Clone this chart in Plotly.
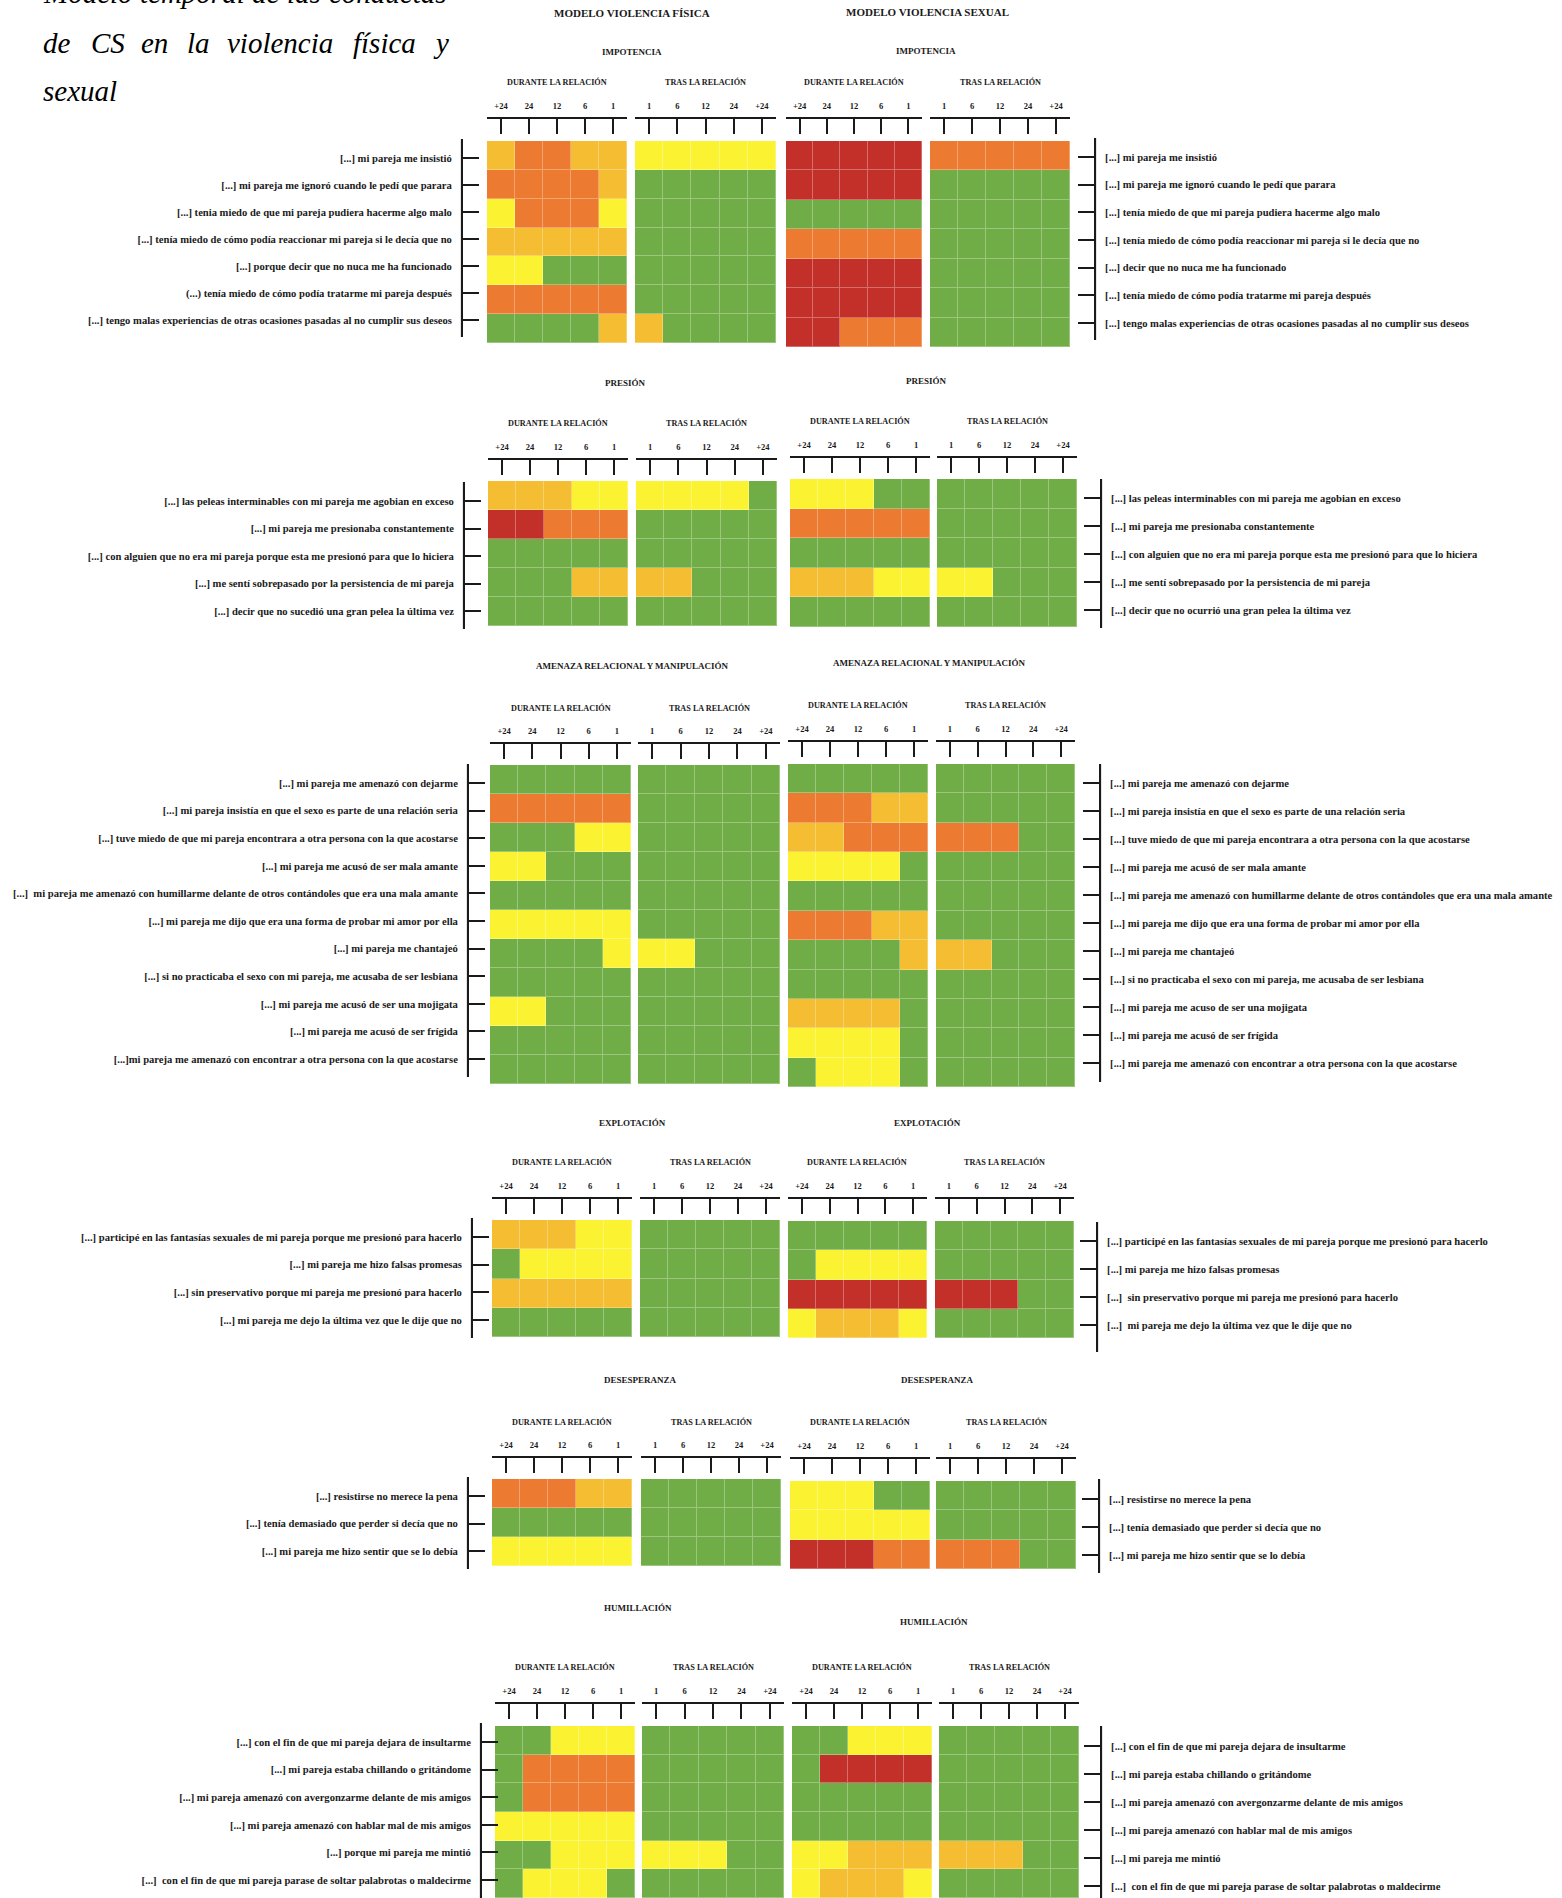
import plotly.graph_objects as go

W, H = 1562, 1898

# ---------------- DATA ----------------
time_during = ["+24", "24", "12", "6", "1"]
time_after = ["1", "6", "12", "24", "+24"]

# 0 = verde, 1 = amarillo, 2 = naranja claro, 3 = naranja, 4 = rojo
level_colors = ["#70ad47", "#fbf232", "#f5bd31", "#ec7b31", "#c3302a"]

model_titles = ["MODELO VIOLENCIA FÍSICA", "MODELO VIOLENCIA SEXUAL"]
period_titles = ["DURANTE LA RELACIÓN", "TRAS LA RELACIÓN"]
section_titles = ["IMPOTENCIA", "PRESIÓN", "AMENAZA RELACIONAL Y MANIPULACIÓN",
                  "EXPLOTACIÓN", "DESESPERANZA", "HUMILLACIÓN"]

# IMPOTENCIA
imp_labels_fis = [
    "[...] mi pareja me insistió",
    "[...] mi pareja me ignoró cuando le pedí que parara",
    "[...] tenia miedo de que mi pareja pudiera hacerme algo malo",
    "[...] tenía miedo de cómo podía reaccionar mi pareja si le decía que no",
    "[...] porque decir que no nuca me ha funcionado",
    "(...) tenía miedo de cómo podía tratarme mi pareja después",
    "[...] tengo malas experiencias de otras ocasiones pasadas al no cumplir sus deseos",
]
imp_labels_sex = [
    "[...] mi pareja me insistió",
    "[...] mi pareja me ignoró cuando le pedí que parara",
    "[...] tenía miedo de que mi pareja pudiera hacerme algo malo",
    "[...] tenía miedo de cómo podía reaccionar mi pareja si le decía que no",
    "[...] decir que no nuca me ha funcionado",
    "[...] tenía miedo de cómo podía tratarme mi pareja después",
    "[...] tengo malas experiencias de otras ocasiones pasadas al no cumplir sus deseos",
]
imp_fis_durante = [[2, 3, 3, 2, 2], [3, 3, 3, 3, 2], [1, 3, 3, 3, 1], [2, 2, 2, 2, 2],
                   [1, 1, 0, 0, 0], [3, 3, 3, 3, 3], [0, 0, 0, 0, 2]]
imp_fis_tras = [[1, 1, 1, 1, 1], [0, 0, 0, 0, 0], [0, 0, 0, 0, 0], [0, 0, 0, 0, 0],
                [0, 0, 0, 0, 0], [0, 0, 0, 0, 0], [2, 0, 0, 0, 0]]
imp_sex_durante = [[4, 4, 4, 4, 4], [4, 4, 4, 4, 4], [0, 0, 0, 0, 0], [3, 3, 3, 3, 3],
                   [4, 4, 4, 4, 4], [4, 4, 4, 4, 4], [4, 4, 3, 3, 3]]
imp_sex_tras = [[3, 3, 3, 3, 3], [0, 0, 0, 0, 0], [0, 0, 0, 0, 0], [0, 0, 0, 0, 0],
                [0, 0, 0, 0, 0], [0, 0, 0, 0, 0], [0, 0, 0, 0, 0]]

# PRESIÓN
pre_labels_fis = [
    "[...] las peleas interminables con mi pareja me agobian en exceso",
    "[...] mi pareja me presionaba constantemente",
    "[...] con alguien que no era mi pareja porque esta me presionó para que lo hiciera",
    "[...] me sentí sobrepasado por la persistencia de mi pareja",
    "[...] decir que no sucedió una gran pelea la última vez",
]
pre_labels_sex = [
    "[...] las peleas interminables con mi pareja me agobian en exceso",
    "[...] mi pareja me presionaba constantemente",
    "[...] con alguien que no era mi pareja porque esta me presionó para que lo hiciera",
    "[...] me sentí sobrepasado por la persistencia de mi pareja",
    "[...] decir que no ocurrió una gran pelea la última vez",
]
pre_fis_durante = [[2, 2, 2, 1, 1], [4, 4, 3, 3, 3], [0, 0, 0, 0, 0], [0, 0, 0, 2, 2], [0, 0, 0, 0, 0]]
pre_fis_tras = [[1, 1, 1, 1, 0], [0, 0, 0, 0, 0], [0, 0, 0, 0, 0], [2, 2, 0, 0, 0], [0, 0, 0, 0, 0]]
pre_sex_durante = [[1, 1, 1, 0, 0], [3, 3, 3, 3, 3], [0, 0, 0, 0, 0], [2, 2, 2, 1, 1], [0, 0, 0, 0, 0]]
pre_sex_tras = [[0, 0, 0, 0, 0], [0, 0, 0, 0, 0], [0, 0, 0, 0, 0], [1, 1, 0, 0, 0], [0, 0, 0, 0, 0]]

# AMENAZA RELACIONAL Y MANIPULACIÓN
ame_labels_fis = [
    "[...] mi pareja me amenazó con dejarme",
    "[...] mi pareja insistía en que el sexo es parte de una relación seria",
    "[...] tuve miedo de que mi pareja encontrara a otra persona con la que acostarse",
    "[...] mi pareja me acusó de ser mala amante",
    "[...]  mi pareja me amenazó con humillarme delante de otros contándoles que era una mala amante",
    "[...] mi pareja me dijo que era una forma de probar mi amor por ella",
    "[...] mi pareja me chantajeó",
    "[...] si no practicaba el sexo con mi pareja, me acusaba de ser lesbiana",
    "[...] mi pareja me acusó de ser una mojigata",
    "[...] mi pareja me acusó de ser frígida",
    "[...]mi pareja me amenazó con encontrar a otra persona con la que acostarse",
]
ame_labels_sex = [
    "[...] mi pareja me amenazó con dejarme",
    "[...] mi pareja insistía en que el sexo es parte de una relación seria",
    "[...] tuve miedo de que mi pareja encontrara a otra persona con la que acostarse",
    "[...] mi pareja me acusó de ser mala amante",
    "[...] mi pareja me amenazó con humillarme delante de otros contándoles que era una mala amante",
    "[...] mi pareja me dijo que era una forma de probar mi amor por ella",
    "[...] mi pareja me chantajeó",
    "[...] si no practicaba el sexo con mi pareja, me acusaba de ser lesbiana",
    "[...] mi pareja me acuso de ser una mojigata",
    "[...] mi pareja me acusó de ser frígida",
    "[...] mi pareja me amenazó con encontrar a otra persona con la que acostarse",
]
ame_fis_durante = [[0, 0, 0, 0, 0], [3, 3, 3, 3, 3], [0, 0, 0, 1, 1], [1, 1, 0, 0, 0],
                   [0, 0, 0, 0, 0], [1, 1, 1, 1, 1], [0, 0, 0, 0, 1], [0, 0, 0, 0, 0],
                   [1, 1, 0, 0, 0], [0, 0, 0, 0, 0], [0, 0, 0, 0, 0]]
ame_fis_tras = [[0, 0, 0, 0, 0], [0, 0, 0, 0, 0], [0, 0, 0, 0, 0], [0, 0, 0, 0, 0],
                [0, 0, 0, 0, 0], [0, 0, 0, 0, 0], [1, 1, 0, 0, 0], [0, 0, 0, 0, 0],
                [0, 0, 0, 0, 0], [0, 0, 0, 0, 0], [0, 0, 0, 0, 0]]
ame_sex_durante = [[0, 0, 0, 0, 0], [3, 3, 3, 2, 2], [2, 2, 3, 3, 3], [1, 1, 1, 1, 0],
                   [0, 0, 0, 0, 0], [3, 3, 3, 2, 2], [0, 0, 0, 0, 2], [0, 0, 0, 0, 0],
                   [2, 2, 2, 2, 0], [1, 1, 1, 1, 0], [0, 1, 1, 1, 0]]
ame_sex_tras = [[0, 0, 0, 0, 0], [0, 0, 0, 0, 0], [3, 3, 3, 0, 0], [0, 0, 0, 0, 0],
                [0, 0, 0, 0, 0], [0, 0, 0, 0, 0], [2, 2, 0, 0, 0], [0, 0, 0, 0, 0],
                [0, 0, 0, 0, 0], [0, 0, 0, 0, 0], [0, 0, 0, 0, 0]]

# EXPLOTACIÓN
exp_labels_fis = [
    "[...] participé en las fantasías sexuales de mi pareja porque me presionó para hacerlo",
    "[...] mi pareja me hizo falsas promesas",
    "[...] sin preservativo porque mi pareja me presionó para hacerlo",
    "[...] mi pareja me dejo la última vez que le dije que no",
]
exp_labels_sex = [
    "[...] participé en las fantasías sexuales de mi pareja porque me presionó para hacerlo",
    "[...] mi pareja me hizo falsas promesas",
    "[...]  sin preservativo porque mi pareja me presionó para hacerlo",
    "[...]  mi pareja me dejo la última vez que le dije que no",
]
exp_fis_durante = [[2, 2, 2, 1, 1], [0, 1, 1, 1, 1], [2, 2, 2, 2, 2], [0, 0, 0, 0, 0]]
exp_fis_tras = [[0, 0, 0, 0, 0], [0, 0, 0, 0, 0], [0, 0, 0, 0, 0], [0, 0, 0, 0, 0]]
exp_sex_durante = [[0, 0, 0, 0, 0], [0, 1, 1, 1, 1], [4, 4, 4, 4, 4], [1, 2, 2, 2, 1]]
exp_sex_tras = [[0, 0, 0, 0, 0], [0, 0, 0, 0, 0], [4, 4, 4, 0, 0], [0, 0, 0, 0, 0]]

# DESESPERANZA
des_labels_fis = [
    "[...] resistirse no merece la pena",
    "[...] tenía demasiado que perder si decía que no",
    "[...] mi pareja me hizo sentir que se lo debía",
]
des_labels_sex = list(des_labels_fis)
des_fis_durante = [[3, 3, 3, 2, 2], [0, 0, 0, 0, 0], [1, 1, 1, 1, 1]]
des_fis_tras = [[0, 0, 0, 0, 0], [0, 0, 0, 0, 0], [0, 0, 0, 0, 0]]
des_sex_durante = [[1, 1, 1, 0, 0], [1, 1, 1, 1, 1], [4, 4, 4, 3, 3]]
des_sex_tras = [[0, 0, 0, 0, 0], [0, 0, 0, 0, 0], [3, 3, 3, 0, 0]]

# HUMILLACIÓN
hum_labels_fis = [
    "[...] con el fin de que mi pareja dejara de insultarme",
    "[...] mi pareja estaba chillando o gritándome",
    "[...] mi pareja amenazó con avergonzarme delante de mis amigos",
    "[...] mi pareja amenazó con hablar mal de mis amigos",
    "[...] porque mi pareja me mintió",
    "[...]  con el fin de que mi pareja parase de soltar palabrotas o maldecirme",
]
hum_labels_sex = [
    "[...] con el fin de que mi pareja dejara de insultarme",
    "[...] mi pareja estaba chillando o gritándome",
    "[...] mi pareja amenazó con avergonzarme delante de mis amigos",
    "[...] mi pareja amenazó con hablar mal de mis amigos",
    "[...] mi pareja me mintió",
    "[...]  con el fin de que mi pareja parase de soltar palabrotas o maldecirme",
]
hum_fis_durante = [[0, 0, 1, 1, 1], [0, 3, 3, 3, 3], [0, 3, 3, 3, 3], [1, 1, 1, 1, 1],
                   [0, 0, 1, 1, 1], [0, 1, 1, 1, 0]]
hum_fis_tras = [[0, 0, 0, 0, 0], [0, 0, 0, 0, 0], [0, 0, 0, 0, 0], [0, 0, 0, 0, 0],
                [1, 1, 1, 0, 0], [0, 0, 0, 0, 0]]
hum_sex_durante = [[0, 0, 1, 1, 1], [0, 4, 4, 4, 4], [0, 0, 0, 0, 0], [0, 0, 0, 0, 0],
                   [1, 1, 2, 2, 2], [1, 2, 2, 2, 1]]
hum_sex_tras = [[0, 0, 0, 0, 0], [0, 0, 0, 0, 0], [0, 0, 0, 0, 0], [0, 0, 0, 0, 0],
                [2, 2, 2, 0, 0], [0, 0, 0, 0, 0]]

sections = [
    (imp_labels_fis, imp_labels_sex, imp_fis_durante, imp_fis_tras, imp_sex_durante, imp_sex_tras),
    (pre_labels_fis, pre_labels_sex, pre_fis_durante, pre_fis_tras, pre_sex_durante, pre_sex_tras),
    (ame_labels_fis, ame_labels_sex, ame_fis_durante, ame_fis_tras, ame_sex_durante, ame_sex_tras),
    (exp_labels_fis, exp_labels_sex, exp_fis_durante, exp_fis_tras, exp_sex_durante, exp_sex_tras),
    (des_labels_fis, des_labels_sex, des_fis_durante, des_fis_tras, des_sex_durante, des_sex_tras),
    (hum_labels_fis, hum_labels_sex, hum_fis_durante, hum_fis_tras, hum_sex_durante, hum_sex_tras),
]

# ---------------- LAYOUT (pixel geometry) ----------------
# lab = x of the label axis line, labs = (first, last) label centre, line = (top, bottom) of axis line
geom_fis = [
    dict(title=(632, 52), head=82, dur=(487, 627), tras=(635, 776), axis=118, heat=(141, 343),
         lab=462, labs=(158, 320), line=(139, 337)),
    dict(title=(625, 383), head=423, dur=(488, 628), tras=(636, 777), axis=459, heat=(481, 626),
         lab=464, labs=(501, 611), line=(482, 629)),
    dict(title=(632, 666), head=708, dur=(490, 631), tras=(638, 780), axis=743, heat=(765, 1084),
         lab=468, labs=(783, 1059), line=(764, 1077)),
    dict(title=(632, 1123), head=1162, dur=(492, 632), tras=(640, 780), axis=1198, heat=(1220, 1337),
         lab=472, labs=(1237, 1320), line=(1218, 1338)),
    dict(title=(640, 1380), head=1422, dur=(492, 632), tras=(641, 781), axis=1457, heat=(1479, 1566),
         lab=468, labs=(1496, 1551), line=(1477, 1569)),
    dict(title=(638, 1608), head=1667, dur=(495, 635), tras=(642, 784), axis=1703, heat=(1726, 1898),
         lab=481, labs=(1742, 1880), line=(1723, 1898)),
]
geom_sex = [
    dict(title=(926, 51), head=82, dur=(786, 922), tras=(930, 1070), axis=118, heat=(141, 347),
         lab=1095, labs=(157, 323), line=(138, 340)),
    dict(title=(926, 381), head=421, dur=(790, 930), tras=(937, 1077), axis=457, heat=(479, 627),
         lab=1101, labs=(498, 610), line=(479, 628)),
    dict(title=(929, 663), head=705, dur=(788, 928), tras=(936, 1075), axis=741, heat=(764, 1087),
         lab=1100, labs=(783, 1063), line=(764, 1082)),
    dict(title=(927, 1123), head=1162, dur=(788, 927), tras=(935, 1074), axis=1198, heat=(1221, 1338),
         lab=1097, labs=(1241, 1325), line=(1222, 1352)),
    dict(title=(937, 1380), head=1422, dur=(790, 930), tras=(936, 1076), axis=1458, heat=(1481, 1569),
         lab=1099, labs=(1499, 1555), line=(1479, 1573)),
    dict(title=(934, 1622), head=1667, dur=(792, 932), tras=(939, 1079), axis=1703, heat=(1726, 1898),
         lab=1101, labs=(1746, 1886), line=(1726, 1898)),
]

FONT = "Liberation Serif"
INK = "#1a1a1a"


def px(x):
    return x / W


def py(y):
    return 1 - y / H


def tint(hex_color, t):
    r, g, b = (int(hex_color[i:i + 2], 16) for i in (1, 3, 5))
    r, g, b = (round(v + (255 - v) * t) for v in (r, g, b))
    return f"rgb({r},{g},{b})"


def discrete_scale(colors):
    out = []
    for i, c in enumerate(colors):
        out.append([i / len(colors), c])
        out.append([(i + 1) / len(colors), c])
    return out


colorscale = discrete_scale(level_colors)
# lighter copy underneath, so the 1px cell gaps read as faint light lines of the same hue
colorscale_grid = discrete_scale([tint(c, 0.3) for c in level_colors])

fig = go.Figure()
axes = {}
annotations = []
count = [0]
label_axes = []


def add_panel(z, xcats, ycats, xr, yr, axis_y):
    count[0] += 1
    k = count[0]
    sfx = "" if k == 1 else str(k)
    common = dict(z=z, x=xcats, y=ycats, xaxis="x" + sfx, yaxis="y" + sfx,
                  zmin=-0.5, zmax=4.5, showscale=False, hoverinfo="skip")
    fig.add_trace(go.Heatmap(colorscale=colorscale_grid, **common))
    fig.add_trace(go.Heatmap(colorscale=colorscale, xgap=1, ygap=1, **common))
    axes["xaxis" + sfx] = dict(
        domain=[px(xr[0]), px(xr[1])], anchor="free", position=py(axis_y), side="top",
        type="category", showline=True, linewidth=2, linecolor=INK,
        ticks="inside", ticklen=15, tickwidth=1.5, tickcolor=INK,
        tickfont=dict(family=FONT, size=8.5, color=INK, weight="bold"),
        ticklabelstandoff=5, showgrid=False, zeroline=False, fixedrange=True)
    axes["yaxis" + sfx] = dict(domain=[py(yr[1]), py(yr[0])], type="category",
                               autorange="reversed", visible=False, anchor="x" + sfx,
                               fixedrange=True)


def add_label_axis(labels, g, side):
    """Row labels on their own category axis (free position, like the original)."""
    label_axes.append(1)
    k = 24 + len(label_axes)
    n = len(labels)
    first, last = g["labs"]
    sp = (last - first) / (n - 1)
    top, bot = g["line"]
    r_top = -(first - top) / sp
    r_bot = (n - 1) + (bot - last) / sp
    x0 = g["lab"] - 2 if side == "left" else g["lab"]
    fig.add_trace(go.Scatter(
        x=[0] * n, y=labels, xaxis=f"x{k}", yaxis=f"y{k}", mode="markers",
        marker=dict(size=1, opacity=0), hoverinfo="skip", showlegend=False))
    axes[f"xaxis{k}"] = dict(domain=[px(x0), px(x0 + 2)], visible=False, anchor=f"y{k}",
                             range=[-1, 1], fixedrange=True)
    axes[f"yaxis{k}"] = dict(
        domain=[py(bot), py(top)], type="category", range=[r_bot, r_top],
        anchor="free", position=px(g["lab"]), side=side, showline=True,
        linewidth=2, linecolor=INK, ticks="inside", ticklen=16, tickwidth=2,
        tickcolor=INK, ticklabelstandoff=7, showgrid=False, zeroline=False, fixedrange=True,
        tickfont=dict(family=FONT, size=10.6, color=INK, weight="bold"))


def text(t, x, y, size, xanchor="center", italic=False, bold=True):
    annotations.append(dict(
        text=t, x=px(x), y=py(y), xref="paper", yref="paper", showarrow=False,
        xanchor=xanchor, yanchor="middle",
        font=dict(family=FONT, size=size, color="#000" if italic else INK,
                  weight="bold" if bold else "normal", style="italic" if italic else "normal")))


for s, (lab_f, lab_s, fd, ft, sd, st) in enumerate(sections):
    gf, gs = geom_fis[s], geom_sex[s]
    add_panel(fd, time_during, lab_f, gf["dur"], gf["heat"], gf["axis"])
    add_panel(ft, time_after, lab_f, gf["tras"], gf["heat"], gf["axis"])
    add_panel(sd, time_during, lab_s, gs["dur"], gs["heat"], gs["axis"])
    add_panel(st, time_after, lab_s, gs["tras"], gs["heat"], gs["axis"])

for s, (lab_f, lab_s, fd, ft, sd, st) in enumerate(sections):
    gf, gs = geom_fis[s], geom_sex[s]
    add_label_axis(lab_f, gf, "left")
    add_label_axis(lab_s, gs, "right")
    for g in (gf, gs):
        text(section_titles[s], g["title"][0], g["title"][1], 9)
        text(period_titles[0], (g["dur"][0] + g["dur"][1]) / 2, g["head"], 8.2)
        text(period_titles[1], (g["tras"][0] + g["tras"][1]) / 2, g["head"], 8.2)

text(model_titles[0], 632, 13, 11)
text(model_titles[1], 927, 12, 11)

# italic justified caption (first line is cut by the top edge, as in the original)
caption_words = [
    [("Modelo", 41), ("temporal", 138), ("de", 250), ("las", 285), ("conductas", 327)],
    [("de", 41), ("CS", 89), ("en", 139), ("la", 185), ("violencia", 225), ("física", 351), ("y", 431)],
    [("sexual", 41)],
]
caption_y = [-7, 43, 91]
for words, yy in zip(caption_words, caption_y):
    for w, xx in words:
        text(w, xx, yy, 29, xanchor="left", italic=True, bold=False)

fig.update_layout(
    width=W, height=H, margin=dict(l=0, r=0, t=0, b=0),
    paper_bgcolor="white", plot_bgcolor="#e4e4e4",
    showlegend=False, annotations=annotations, **axes)

fig.write_html("out.html", config={"displayModeBar": False},
               post_script="document.body.style.margin='0';")
